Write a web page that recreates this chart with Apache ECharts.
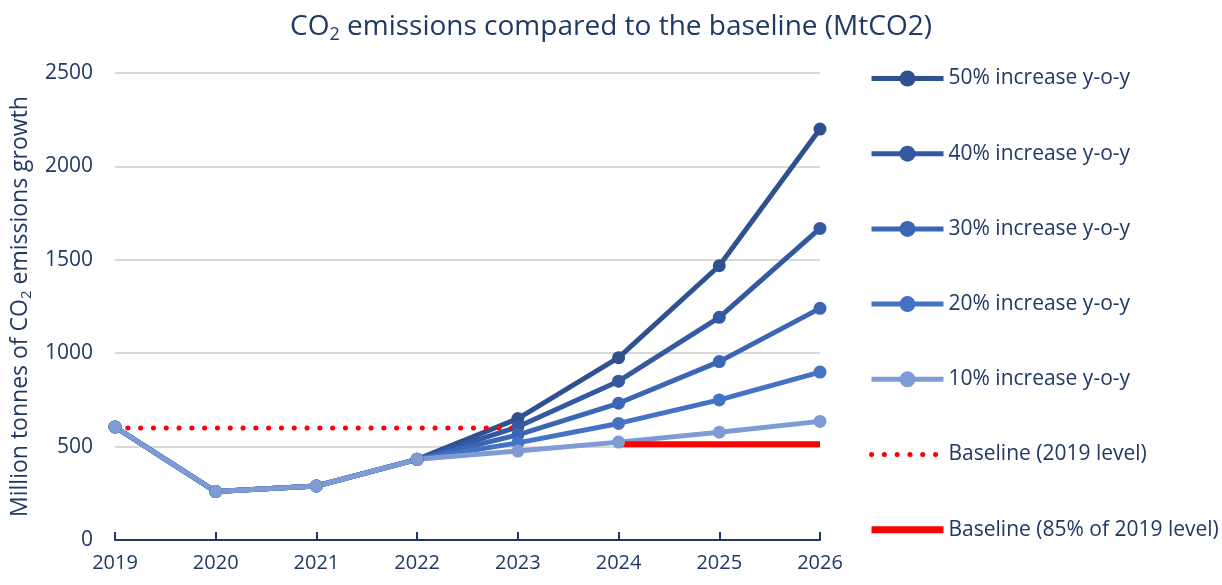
<!DOCTYPE html>
<html>
<head>
<meta charset="utf-8">
<script src="https://cdn.jsdelivr.net/npm/echarts@6/dist/echarts.min.js"></script>
<style>
html,body{margin:0;padding:0;background:#fff;}
#chart{width:1222px;height:585px;}
</style>
</head>
<body>
<div id="chart"></div>
<script>
const years = ['2019','2020','2021','2022','2023','2024','2025','2026'];
const inc50 = [605, 259, 289, 432, 650, 976, 1468, 2200];
const inc40 = [605, 259, 289, 432, 606, 850, 1192, 1668];
const inc30 = [605, 259, 289, 432, 563, 732, 955, 1240];
const inc20 = [605, 259, 289, 432, 520, 624, 750, 899];
const inc10 = [605, 259, 289, 432, 476, 524, 577, 635];
const base2019 = [600, 600, 600, 600, 600, null, null, null];
const base85 = [null, null, null, null, null, 512, 512, 512];
const seriesNames = ['50% increase y-o-y','40% increase y-o-y','30% increase y-o-y','20% increase y-o-y','10% increase y-o-y','Baseline (2019 level)','Baseline (85% of 2019 level)'];
const yTicks = [0, 500, 1000, 1500, 2000, 2500];

const navy = '#1F3864';
const font = 'Open Sans';
const blues = ['#2F528F', '#3459A2', '#3B66B6', '#4472C4', '#7F9BD3'];
const blueData = [inc50, inc40, inc30, inc20, inc10];

const chart = echarts.init(document.getElementById('chart'), null, {renderer: 'canvas'});
const series = blueData.map((d, i) => ({
  name: seriesNames[i],
  type: 'line',
  data: d,
  symbol: 'circle',
  symbolSize: 13,
  lineStyle: {width: 5, color: blues[i]},
  itemStyle: {color: blues[i]},
  emphasis: {disabled: true},
  animation: false
}));
series.push({
  name: seriesNames[5],
  type: 'line',
  data: base2019,
  symbol: 'none',
  lineStyle: {width: 5, color: '#FF0000', type: [0.1, 12.7], cap: 'round'},
  itemStyle: {color: '#FF0000'},
  animation: false
});
series.push({
  name: seriesNames[6],
  type: 'line',
  data: base85,
  symbol: 'none',
  lineStyle: {width: 6, color: '#FF0000'},
  itemStyle: {color: '#FF0000'},
  animation: false
});

const legendData = seriesNames.map((n, i) => {
  if (i < 5) return {name: n, lineStyle: {width: 5}};
  if (i === 5) return {name: n, lineStyle: {width: 5}, itemStyle: {opacity: 0}};
  return {name: n, lineStyle: {width: 7}, itemStyle: {opacity: 0}};
});

chart.setOption({
  backgroundColor: '#fff',
  animation: false,
  textStyle: {fontFamily: font},
  title: {
    text: '{a|CO}{s|2}{a| emissions compared to the baseline (MtCO2)}',
    left: 'center',
    top: 6,
    textStyle: {
      fontWeight: 'normal',
      rich: {
        a: {fontFamily: font, fontSize: 28, color: navy, fontWeight: 'normal'},
        s: {fontFamily: font, fontSize: 18, color: navy, fontWeight: 'normal', padding: [15, 0, 0, 0]}
      }
    }
  },
  grid: {left: 115, right: 402, top: 73, bottom: 45, containLabel: false},
  legend: {
    orient: 'vertical',
    left: 863,
    top: 63,
    itemWidth: 72,
    itemHeight: 20,
    itemGap: 54.2,
    data: legendData,
    textStyle: {color: navy, fontSize: 21, lineHeight: 20, fontFamily: font}
  },
  xAxis: {
    type: 'category',
    data: years,
    boundaryGap: false,
    axisLine: {lineStyle: {color: navy, width: 2}},
    axisTick: {show: true, inside: true, length: 8, alignWithLabel: true, lineStyle: {color: navy, width: 2}},
    axisLabel: {color: navy, fontSize: 20, margin: 13, fontFamily: font}
  },
  yAxis: {
    type: 'value',
    min: yTicks[0],
    max: yTicks[yTicks.length - 1],
    interval: 500,
    axisLine: {show: false},
    axisTick: {show: false},
    splitLine: {lineStyle: {color: '#D9D9D9', width: 2}},
    axisLabel: {color: navy, fontSize: 21, margin: 22, fontFamily: font, formatter: v => String(v)},
    name: 'Million tonnes of CO{s|2} emissions growth',
    nameLocation: 'middle',
    nameGap: 80,
    nameTextStyle: {
      color: navy, fontSize: 23, fontFamily: font,
      rich: {s: {fontSize: 15, color: navy, fontFamily: font, padding: [12, 0, 0, 0]}}
    }
  },
  series: series
});
</script>
</body>
</html>
